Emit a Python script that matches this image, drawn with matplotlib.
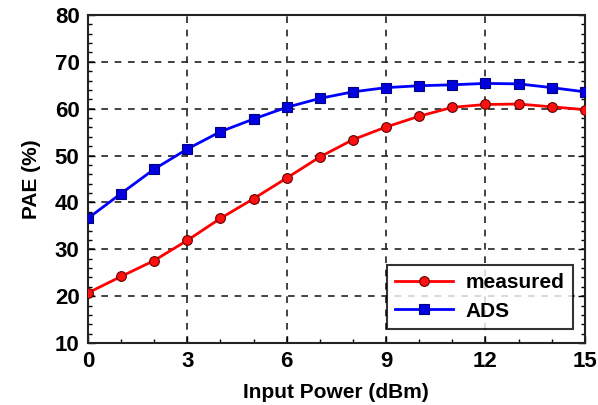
import matplotlib
matplotlib.use("Agg")
import matplotlib.pyplot as plt
from matplotlib import font_manager
from matplotlib.ticker import MultipleLocator

# data
pin = [0, 1, 2, 3, 4, 5, 6, 7, 8, 9, 10, 11, 12, 13, 14, 15]
measured = [20.7, 24.2, 27.6, 31.9, 36.6, 40.8, 45.2, 49.7, 53.4, 56.1, 58.4, 60.3, 60.9, 61.0, 60.4, 59.8]
ads = [36.6, 41.9, 47.1, 51.4, 55.1, 57.8, 60.3, 62.2, 63.6, 64.5, 64.9, 65.1, 65.4, 65.3, 64.5, 63.6]
xticks = [0, 3, 6, 9, 12, 15]
yticks = [10, 20, 30, 40, 50, 60, 70, 80]

names = {f.name for f in font_manager.fontManager.ttflist}
fam = "Liberation Sans Narrow" if "Liberation Sans Narrow" in names else "Liberation Sans"
plt.rcParams["font.family"] = [fam, "DejaVu Sans"]
plt.rcParams["font.weight"] = "bold"

fig = plt.figure(figsize=(5.98, 4.05), dpi=100)
ax = fig.add_axes([0.147, 0.153, 0.831, 0.810])

ax.plot(pin, measured, color="#ff0000", lw=2.0, marker="o", ms=7,
        mfc="#ff1010", mec="#600000", mew=0.8, label="measured", zorder=3)
ax.plot(pin, ads, color="#0000ff", lw=2.0, marker="s", ms=7.5,
        mfc="#0000e0", mec="#000080", mew=0.8, label="ADS", zorder=3)

ax.set_xlim(0, 15)
ax.set_ylim(10, 80)
ax.set_xticks(xticks)
ax.set_yticks(yticks)
ax.xaxis.set_minor_locator(MultipleLocator(1))
ax.yaxis.set_minor_locator(MultipleLocator(2))
ax.tick_params(which="both", direction="in", right=True, labelsize=16, pad=6)
ax.tick_params(which="major", length=5, width=1)
ax.tick_params(which="minor", length=3, width=1)
for lab in ax.get_xticklabels() + ax.get_yticklabels():
    lab.set_fontweight("bold")

ax.grid(True, which="major", ls=(0, (4, 4)), color="#222222", lw=1.2)
for s in ax.spines.values():
    s.set_linewidth(1.5)
    s.set_color("#222222")

ax.set_xlabel("Input Power (dBm)", fontsize=15, fontweight="bold", labelpad=8)
ax.set_ylabel("PAE (%)", fontsize=15, fontweight="bold", labelpad=10)

leg = ax.legend(loc="lower right", bbox_to_anchor=(0.976, 0.043), fontsize=15,
                frameon=True, fancybox=False, edgecolor="black",
                handlelength=2.8, borderpad=0.4, labelspacing=0.45,
                handletextpad=0.6, borderaxespad=0)
leg.get_frame().set_linewidth(1.5)
for t in leg.get_texts():
    t.set_fontweight("bold")

fig.savefig("out.png", dpi=100)
